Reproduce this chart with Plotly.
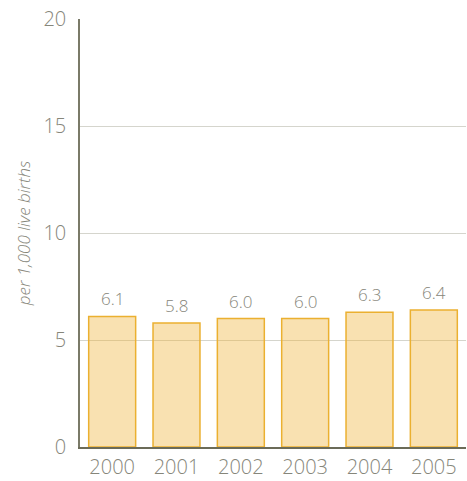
import plotly.graph_objects as go

years = ["2000", "2001", "2002", "2003", "2004", "2005"]
rates = [6.1, 5.8, 6.0, 6.0, 6.3, 6.4]
labels = ["6.1", "5.8", "6.0", "6.0", "6.3", "6.4"]
y_ticks = [0, 5, 10, 15, 20]

txt = "#86867a"
FONT = "Open Sans"
fig = go.Figure(go.Bar(
    x=years, y=rates,
    marker=dict(color="rgba(240,175,50,0.38)", line=dict(color="#ebb030", width=1.5)),
))
for i, (y, t) in enumerate(zip(rates, labels)):
    fig.add_annotation(x=i, y=y, text=t, showarrow=False, yanchor="bottom", yshift=4,
                       font=dict(size=17, color=txt, family=FONT, weight=300))
fig.update_layout(
    width=467, height=481, margin=dict(l=80, r=1, t=19, b=32),
    paper_bgcolor="white", plot_bgcolor="white",
    bargap=0.27, showlegend=False,
    font=dict(family=FONT, color=txt, weight=300),
)
fig.update_xaxes(type="category", range=[-0.5, len(years) - 0.5], showline=True,
                 linecolor="#6b6b58", linewidth=2, ticks="",
                 tickfont=dict(size=20, color=txt, family=FONT, weight=300), ticklabelstandoff=1)
fig.update_yaxes(range=[0, 20], tickvals=y_ticks, showgrid=True, gridcolor="rgba(150,150,130,0.4)",
                 gridwidth=1, showline=True, linecolor="#7a7a68", linewidth=1.5, ticks="",
                 zeroline=False, tickfont=dict(size=20, color=txt, family=FONT, weight=300), ticklabelstandoff=8,
                 title=dict(text="<i>per 1,000 live births</i>",
                            font=dict(size=17, color=txt, family=FONT, weight=300), standoff=8))
fig.write_html("out.html")
